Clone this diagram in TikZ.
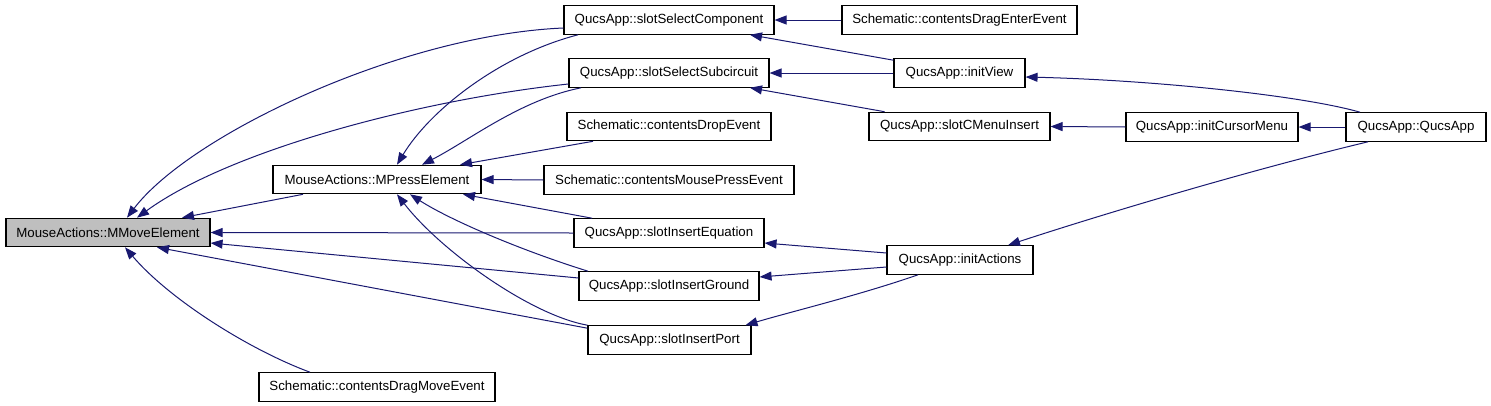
\documentclass[tikz,border=0pt]{standalone}
\usepackage{fontspec}
\setmainfont{Liberation Sans}
\usetikzlibrary{arrows.meta}
\definecolor{edgeblue}{HTML}{191970}
\definecolor{hlgray}{HTML}{BFBFBF}
\begin{document}
\begin{tikzpicture}[x=1pt,y=-1pt,
  box/.style={draw=black, line width=1.1pt, fill=white, inner sep=0pt, minimum height=28.5pt, font=\fontsize{13.3}{15}\selectfont},
  edge/.style={draw=edgeblue, line width=1pt, -{Triangle[length=12pt,width=9pt]}}]
\useasboundingbox (0,0) rectangle (1491,405);
% column 0 and 1
\node[box, fill=hlgray, minimum width=204pt] (mmove) at (108,232.5) {MouseActions::MMoveElement};
\node[box, minimum width=208pt] (mpress) at (377,179.5) {MouseActions::MPressElement};
\node[box, minimum width=236pt] (dragmove) at (377,387) {Schematic::contentsDragMoveEvent};
% column 2
\node[box, minimum width=210pt] (selcomp) at (669,20) {QucsApp::slotSelectComponent};
\node[box, minimum width=200pt] (selsub) at (669,73) {QucsApp::slotSelectSubcircuit};
\node[box, minimum width=204pt] (drop) at (669,126.5) {Schematic::contentsDropEvent};
\node[box, minimum width=250pt] (mousepress) at (669,180) {Schematic::contentsMousePressEvent};
\node[box, minimum width=190pt] (inseq) at (669,233) {QucsApp::slotInsertEquation};
\node[box, minimum width=180pt] (insgnd) at (669,286) {QucsApp::slotInsertGround};
\node[box, minimum width=163pt] (insport) at (669.5,340) {QucsApp::slotInsertPort};
% column 3
\node[box, minimum width=235pt] (dragenter) at (959.5,20) {Schematic::contentsDragEnterEvent};
\node[box, minimum width=131pt] (initview) at (959.5,73) {QucsApp::initView};
\node[box, minimum width=181pt] (cmenu) at (959.5,126.5) {QucsApp::slotCMenuInsert};
\node[box, minimum width=146pt] (initactions) at (960,260) {QucsApp::initActions};
% column 4 and 5
\node[box, minimum width=172pt] (cursormenu) at (1212,127) {QucsApp::initCursorMenu};
\node[box, minimum width=140pt] (qucsapp) at (1416,127) {QucsApp::QucsApp};
% edges into MMoveElement
\draw[edge] ([yshift=-8pt]selcomp.west) .. controls (400,35) and (190,135) .. ([xshift=19pt]mmove.north);
\draw[edge] ([yshift=-11pt]selsub.west) .. controls (420,100) and (230,150) .. ([xshift=29pt]mmove.north);
\draw[edge] ([xshift=-74pt]mpress.south) -- ([xshift=74pt]mmove.north);
\draw[edge] (inseq.west) -- (mmove.east);
\draw[edge] ([yshift=8pt]insgnd.west) -- ([yshift=-10.5pt]mmove.east);
\draw[edge] ([yshift=-3pt]insport.north west) -- ([xshift=49pt]mmove.south);
\draw[edge] ([xshift=-67pt]dragmove.north) .. controls (250,350) and (170,300) .. ([xshift=17pt]mmove.south);
% edges into MPressElement
\draw[edge] ([xshift=-91pt]selcomp.south) .. controls (500,55) and (430,110) .. ([xshift=20pt]mpress.north);
\draw[edge] ([xshift=-88pt]selsub.south) .. controls (520,100) and (470,140) .. ([xshift=45pt]mpress.north);
\draw[edge] ([xshift=-76pt]drop.south) -- ([xshift=83pt]mpress.north);
\draw[edge] (mousepress.west) -- (mpress.east);
\draw[edge] ([xshift=-77pt]inseq.north) -- ([xshift=86pt]mpress.south);
\draw[edge] ([xshift=-81pt]insgnd.north) .. controls (520,250) and (450,220) .. ([xshift=33pt]mpress.south);
\draw[edge] (insport.north west) .. controls (530,315) and (440,250) .. ([xshift=20pt]mpress.south);
% column 3 to column 2
\draw[edge] (dragenter.west) -- (selcomp.east);
\draw[edge] ([yshift=-2pt]initview.north west) -- ([xshift=81pt]selcomp.south);
\draw[edge] (initview.west) -- (selsub.east);
\draw[edge] ([xshift=-75pt]cmenu.north) -- ([xshift=81pt]selsub.south);
\draw[edge] ([yshift=7pt]initactions.west) -- ([yshift=-10pt]inseq.east);
\draw[edge] ([yshift=-7pt]initactions.west) -- ([yshift=9pt]insgnd.east);
\draw[edge] ([xshift=-42pt]initactions.south) .. controls (860,295) and (790,312) .. ([xshift=76pt]insport.north);
% right part
\draw[edge] (cursormenu.west) -- (cmenu.east);
\draw[edge] (qucsapp.west) -- (cursormenu.east);
\draw[edge] ([xshift=-56pt]qucsapp.north) .. controls (1300,95) and (1150,80) .. ([yshift=-4pt]initview.east);
\draw[edge] ([xshift=-48pt]qucsapp.south) .. controls (1250,170) and (1100,215) .. ([xshift=48pt]initactions.north);
\end{tikzpicture}
\end{document}
